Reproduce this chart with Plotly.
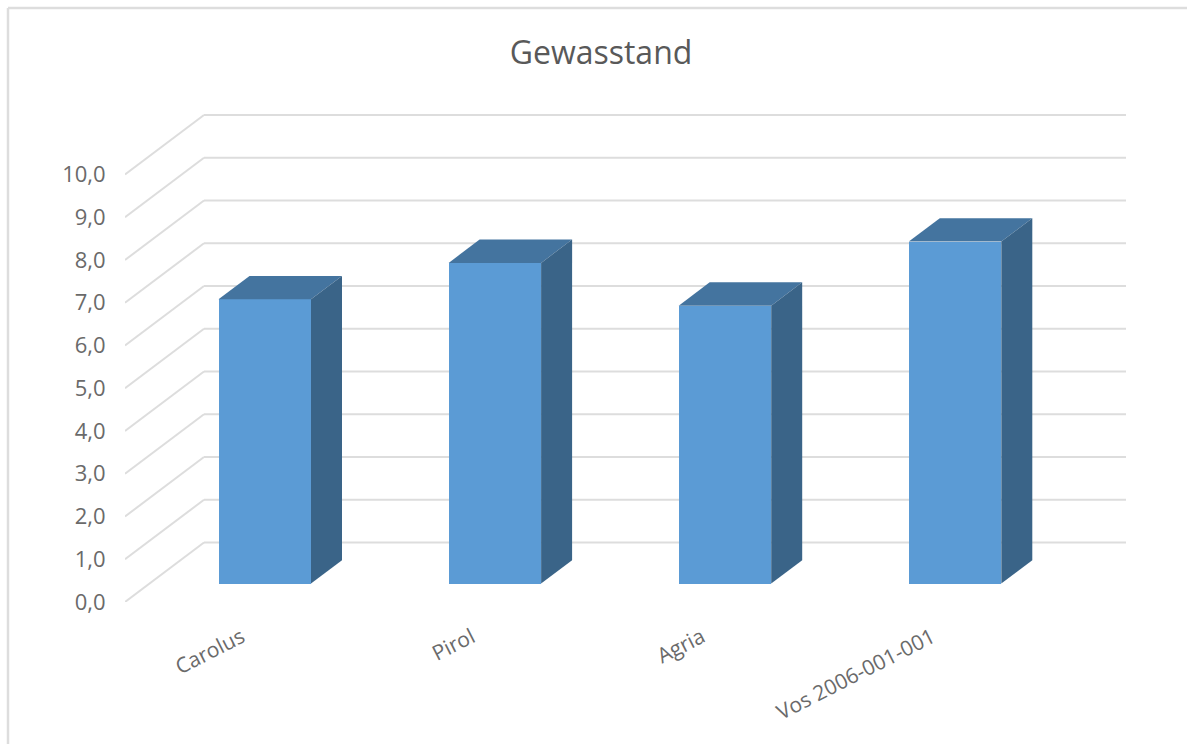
import plotly.graph_objects as go

categories = ["Carolus", "Pirol", "Agria", "Vos 2006-001-001"]
values = [6.65, 7.5, 6.5, 8.0]
y_ticks = [0, 1, 2, 3, 4, 5, 6, 7, 8, 9, 10]
y_labels = ["0,0", "1,0", "2,0", "3,0", "4,0", "5,0", "6,0", "7,0", "8,0", "9,0", "10,0"]

FRONT = "#5B9BD5"
TOP = "#44749F"
SIDE = "#3A6488"
GRID = "#DDDDDD"
TEXT = "#6A6A6A"
FONT = "'Open Sans', sans-serif"

W, H = 1187, 744
ML, MR, MT, MB = 125, 61, 100, 142
PX = 230.1      # pixels per category
PY = 42.75      # pixels per value unit
X0 = -(264.75 - ML) / PX
X1 = X0 + (W - ML - MR) / PX
Y1 = (H - MB - MT) / PY

BAR_W = 92.5 / PX
BASE = 18.5 / PY        # bars stand part-way into the floor
DX, DY = 31 / PX, 23.3 / PY     # bar depth
WALL_DX, WALL_DY = 79 / PX, 59.5 / PY   # wall depth

xs = list(range(len(categories)))
fig = go.Figure()

# perspective gridlines on the side wall and back wall, under the bars
shapes = []
for v in y_ticks:
    xb, yb = X0 + WALL_DX, v + WALL_DY
    shapes.append(dict(type="line", xref="x", yref="y", x0=X0, y0=v, x1=xb, y1=yb,
                       line=dict(color=GRID, width=2), layer="below"))
    shapes.append(dict(type="line", xref="x", yref="y", x0=xb, y0=yb, x1=X1, y1=yb,
                       line=dict(color=GRID, width=2), layer="below"))
# the picture's frame: top and left edges only
shapes.append(dict(type="line", xref="paper", yref="paper",
                   x0=(8 - ML) / (W - ML - MR), x1=(W - ML) / (W - ML - MR),
                   y0=(H - MB - 8) / (H - MT - MB), y1=(H - MB - 8) / (H - MT - MB),
                   line=dict(color=GRID, width=2.5), layer="below"))
shapes.append(dict(type="line", xref="paper", yref="paper",
                   x0=(8 - ML) / (W - ML - MR), x1=(8 - ML) / (W - ML - MR),
                   y0=(H - MB - 8) / (H - MT - MB), y1=-MB / (H - MT - MB),
                   line=dict(color=GRID, width=2.5), layer="below"))

fig.add_trace(go.Bar(x=xs, y=values, base=BASE, width=BAR_W, marker=dict(color=FRONT, line=dict(width=0)),
                     hoverinfo="skip", showlegend=False))

for x, v in zip(xs, values):
    l, r = x - BAR_W / 2, x + BAR_W / 2
    t = BASE + v
    fig.add_trace(go.Scatter(x=[l, r, r + DX, l + DX, l], y=[t, t, t + DY, t + DY, t],
                             fill="toself", fillcolor=TOP, mode="none",
                             hoverinfo="skip", showlegend=False))
    fig.add_trace(go.Scatter(x=[r, r + DX, r + DX, r, r],
                             y=[BASE, BASE + DY, t + DY, t, BASE],
                             fill="toself", fillcolor=SIDE, mode="none",
                             hoverinfo="skip", showlegend=False))

fig.update_layout(
    width=W, height=H,
    margin=dict(l=ML, r=MR, t=MT, b=MB, pad=0),
    paper_bgcolor="white", plot_bgcolor="rgba(0,0,0,0)",
    bargap=0, showlegend=False, shapes=shapes,
    font=dict(family=FONT, color=TEXT),
    title=dict(text="Gewasstand", x=601 / W, xanchor="center", y=1 - 53 / H, yanchor="middle",
               font=dict(family=FONT, size=32, color="#595959")),
    xaxis=dict(range=[X0, X1], tickmode="array", tickvals=[x - 0.10 for x in xs], ticktext=categories,
               tickangle=-27, showgrid=False, zeroline=False, showline=False,
               ticks="outside", ticklen=14, tickcolor="rgba(0,0,0,0)", tickfont=dict(size=21, color=TEXT, family=FONT)),
    yaxis=dict(range=[0, Y1], tickmode="array", tickvals=y_ticks, ticktext=y_labels,
               showgrid=False, zeroline=False, showline=False,
               ticks="outside", ticklen=14, tickcolor="rgba(0,0,0,0)", tickfont=dict(size=22, color=TEXT, family=FONT)),
)

fig.write_html("out.html", config={"displayModeBar": False},
               post_script="document.body.style.margin='0';document.documentElement.style.overflow='hidden';")
